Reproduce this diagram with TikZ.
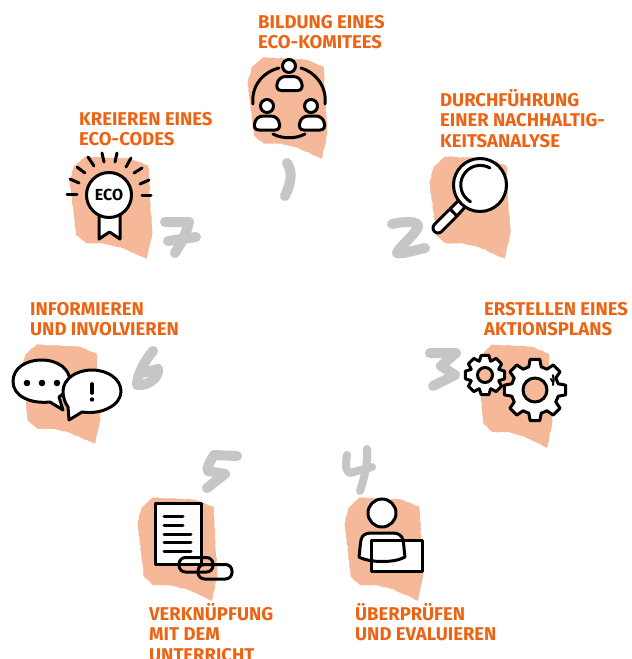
\documentclass[tikz,border=0pt]{standalone}
\usepackage{fontspec}
\setmainfont{Fira Sans}
\usetikzlibrary{decorations.pathmorphing}
\definecolor{salmon}{HTML}{F5B899}
\definecolor{labelorange}{HTML}{EC6413}
\definecolor{digitgray}{HTML}{C6C6C6}
\tikzset{
  lbl/.style={anchor=north west,inner sep=0pt,align=left,text=labelorange,font=\fontsize{18.5}{20.5}\selectfont\bfseries},
  blobfill/.style={fill=salmon,draw=salmon,line width=1pt,decorate,decoration={random steps,segment length=2.5pt,amplitude=.45pt}},
  digit/.style={draw=digitgray,line width=10pt,line cap=round,line join=round},
  ico/.style={draw=black,line width=3pt,line join=round,line cap=round},
  icow/.style={ico,fill=white}
}
\newcommand{\blobat}[4]{%
  \path[blobfill,shift={(#1,#2)},x=#3pt/100,y=-#4pt/100]
   (19,0) -- (45,1) -- (72,2) -- (95,9) -- (97,42) -- (100,75) -- (93,100) -- (62,89) -- (40,85) -- (20,85) -- (8,77) -- (5,55) -- (0,25) -- (5,10) -- cycle;}
\newcommand{\gearat}[6]{%
  \begin{scope}[shift={(#1,#2)},y=1pt]
  \draw[icow] (-#5:#4pt) \foreach \a in {0,45,...,315}{ -- (\a-#6:#3pt) -- (\a+#6:#3pt) -- (\a+#5:#4pt) -- (\a+45-#5:#4pt)} -- cycle;
  \end{scope}}
\newcommand{\personbody}[2]{%
  \draw[icow,shift={(#1,#2)}] (-8,0) -- (8,0) .. controls (12,0) and (13,-3) .. (12.5,-6) .. controls (12,-11) and (8,-14) .. (4,-14) -- (-4,-14) .. controls (-8,-14) and (-12,-11) .. (-12.5,-6) .. controls (-13,-3) and (-12,0) .. (-8,0) -- cycle;}
\begin{document}
\begin{tikzpicture}[x=1pt,y=-1pt]
\useasboundingbox (0,0) rectangle (632,659);
\clip (0,0) rectangle (632,659);
\fill[white] (0,0) rectangle (632,659);

% blobs
\blobat{248}{58}{79}{100}
\blobat{430}{157}{80}{101}
\blobat{478}{345}{74}{102}
\blobat{345}{498}{78}{102}
\blobat{138}{498}{79}{102}
\blobat{22}{345}{78}{98}
\blobat{70}{157}{82}{101}

% digits
\draw[digit] (287,163) .. controls (293,172) and (291,183) .. (285,196);
\draw[digit] (392,224) .. controls (405,221) and (420,221) .. (418,227) .. controls (414,236) and (400,246) .. (397,253) .. controls (405,254) and (415,250) .. (425,248);
\draw[digit] (430,353) -- (456,353) -- (441,366) -- (455,375) -- (433,386);
\draw[digit,line width=8pt] (347,455) .. controls (345,465) and (346,472) .. (350,473) -- (372,467);
\draw[digit,line width=8pt] (367,449) .. controls (368,465) and (364,478) .. (360,491);
\draw[digit] (237,456) -- (214,455) .. controls (210,462) and (206,468) .. (208,471) -- (225,474) -- (207,488);
\draw[digit] (153,351) .. controls (145,360) and (137,375) .. (137,385) .. controls (148,386) and (159,378) .. (158,369) -- (142,373);
\draw[digit] (165,222) -- (189,222) .. controls (186,235) and (180,245) .. (175,253);
\draw[digit] (168,241) -- (196,237);

% 1 committee
\draw[ico] (279,68) .. controls (263,72) and (251,86) .. (253,104);
\draw[ico] (301,68) .. controls (315,72) and (327,86) .. (325,104);
\draw[ico] (273,134) .. controls (282,139) and (296,139) .. (305,134);
\node[icow,circle,minimum size=13pt,inner sep=0pt] (h1) at (289,66) {};
\node[icow,circle,minimum size=13pt,inner sep=0pt] (h2) at (267,106) {};
\node[icow,circle,minimum size=13pt,inner sep=0pt] (h3) at (311,106) {};
\personbody{289.5}{90.5}
\personbody{267}{130}
\personbody{312}{130}

% 2 magnifier
\draw[black,line width=13pt,line cap=round] (438,228) -- (452,214);
\draw[white,line width=7pt,line cap=round] (438,228) -- (452,214);
\draw[icow] (450,209) -- (459,200) -- (466,206) -- (457,216) -- cycle;
\node[icow,circle,minimum size=53pt,inner sep=0pt] (lens) at (480,185) {};
\draw[ico] (490,168) arc[start angle=-60,end angle=-240,radius=19.5pt,y radius=-19.5pt];

% 3 gears
\gearat{485}{375}{20}{15}{22}{11}
\node[icow,fill=salmon,circle,minimum size=15pt,inner sep=0pt] (g1) at (485,375) {};
\gearat{535}{390}{31}{24}{15}{9}
\node[icow,fill=salmon,circle,minimum size=24pt,inner sep=0pt] (g2) at (535,390) {};
\draw[ico,line width=2pt] (551,379) arc[start angle=-35,end angle=-25,radius=19pt,y radius=-19pt];
\draw[ico,line width=2pt] (553,385) arc[start angle=-15,end angle=15,radius=19pt,y radius=19pt];

% 4 person with card
\path[fill=white] (371,540) rectangle (422,571);
\draw[icow] (359,557) .. controls (360,550) and (360,545) .. (361,540) .. controls (362,535) and (366,533) .. (371,533) -- (393,533) .. controls (399,533) and (402,536) .. (403,540) .. controls (404,545) and (404,550) .. (405,557) .. controls (395,563) and (370,563) .. (359,557) -- cycle;
\node[icow,circle,minimum size=28pt,inner sep=0pt] (h4) at (382,513) {};
\draw[ico] (371,540) rectangle (422,571);

% 5 document with links
\draw[icow] (155,503) rectangle (201,564);
\draw[ico] (164,516) -- (183,516);
\draw[ico] (164,525) -- (183,525);
\draw[ico] (164,534) -- (191,534);
\draw[ico] (164,542.5) -- (191,542.5);
\draw[ico] (164,551) -- (191,551);
\draw[ico,rounded corners=6.5pt] (179,557.5) rectangle (213,572);
\draw[ico,rounded corners=6.5pt] (198,564.5) rectangle (232,579);

% 6 bubbles
\draw[icow] (50,402) .. controls (30,404) and (13,396) .. (13,381.5) .. controls (13,368) and (26,360) .. (41.5,360) .. controls (58,360) and (70,369) .. (70,381.5) .. controls (70,387) and (65,393) .. (59,397) -- (63,410) -- cycle;
\fill (27,383) circle (3.3pt) (42,383) circle (3.3pt) (57,383) circle (3.3pt);
\draw[icow] (82,412) .. controls (102,415) and (121,405) .. (121,391.5) .. controls (121,379) and (108,370) .. (92,370) .. controls (76,370) and (63,379) .. (63,391.5) .. controls (63,397) and (65,403) .. (68,407) -- (69,420) -- cycle;
\draw[ico,line width=3.6pt] (92,384) -- (92,393);
\fill (92,399.5) circle (2.2pt);

% 7 rosette
\draw[icow] (99,212) -- (99,239) -- (109.5,232) -- (120,239) -- (120,212) -- cycle;
\node[icow,circle,minimum size=45pt,inner sep=0pt,font=\fontsize{16}{18}\selectfont\bfseries,text=black] (badge) at (109,195) {ECO};
\foreach \xa/\ya/\xb/\yb in {67/194/77/194,142/195/151/195,70/179/79/183,77/167/85/173,88/157/94/166,102/153/104/162,117/153/115/162,131/158/126/167,142/168/134/173,149/180/140/184}
  \draw[ico] (\xa,\ya) -- (\xb,\yb);

% labels
\node[lbl] (t1) at (258,15) {BILDUNG EINES\\ECO-KOMITEES};
\node[lbl] (t2) at (440,89) {DURCHFÜHRUNG\\EINER NACHHALTIG-\\KEITSANALYSE};
\node[lbl] (t3) at (484,302) {ERSTELLEN EINES\\AKTIONSPLANS};
\node[lbl] (t4) at (355,603) {ÜBERPRÜFEN\\UND EVALUIEREN};
\node[lbl] (t5) at (149,603) {VERKNÜPFUNG\\MIT DEM\\UNTERRICHT};
\node[lbl] (t6) at (30,302) {INFORMIEREN\\UND INVOLVIEREN};
\node[lbl] (t7) at (79,112) {KREIEREN EINES\\ECO-CODES};
\end{tikzpicture}
\end{document}
